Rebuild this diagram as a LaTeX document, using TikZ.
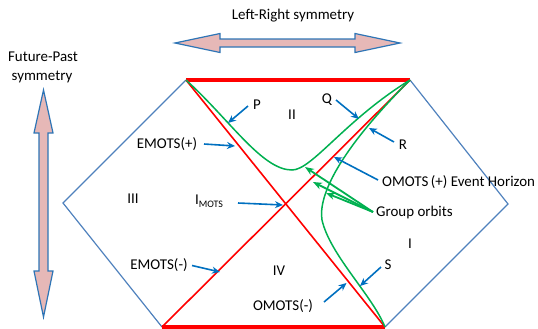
\documentclass[tikz,border=0pt]{standalone}
\usepackage{fontspec}
\setmainfont{Carlito}
\usetikzlibrary{arrows.meta}
\definecolor{hexblue}{RGB}{79,129,189}
\definecolor{arrblue}{RGB}{0,112,192}
\definecolor{pinkfill}{RGB}{230,184,183}
\definecolor{bigedge}{RGB}{46,117,182}
\definecolor{gorbit}{RGB}{0,176,80}
\begin{document}
\begin{tikzpicture}[x=1bp,y=-1bp,
  lbl/.style={inner sep=0pt,font=\fontsize{15}{18}\selectfont},
  hexedge/.style={draw=hexblue,line width=1.2bp},
  redline/.style={draw=red,line width=1.6bp},
  redthick/.style={draw=red,line width=4bp},
  orbit/.style={draw=gorbit,line width=1.5bp},
  ptr/.style={draw=arrblue,line width=1.6bp,-{Stealth[length=8bp,width=7bp]}},
  gptr/.style={draw=gorbit,line width=1.8bp,-{Stealth[length=9bp,width=7bp]}},
  bigarrow/.style={fill=pinkfill,draw=bigedge,line width=1.2bp,line join=miter}]
\useasboundingbox (0,0) rectangle (538,328);
% hexagon vertices
\coordinate (TL) at (186,80);
\coordinate (TR) at (410,80);
\coordinate (RV) at (508,204);
\coordinate (BR) at (385,327);
\coordinate (BL) at (162,327);
\coordinate (LV) at (63,203);
% blue edges
\draw[hexedge] (TL) -- (LV) -- (BL);
\draw[hexedge] (TR) -- (RV) -- (BR);
% red lines
\draw[redline] (TL) -- (BR);
\draw[redline] (TR) -- (BL);
\draw[redthick] (TL) -- (TR);
\draw[redthick] (BL) -- (BR);
% green orbits
\coordinate (g1m) at (292,170);
\coordinate (g2m) at (322,220);
\draw[orbit] (TL) .. controls (230,120) and (262,170) .. (g1m)
  .. controls (312,170) and (345,120) .. (TR);
\draw[orbit] (TR) .. controls (340,150) and (318,195) .. (g2m)
  .. controls (330,255) and (372,295) .. (BR);
% big symmetry arrows
\draw[bigarrow] (175,43) -- (220,33.5) -- (220,39) -- (355,39) -- (355,33.5)
  -- (400,43) -- (355,52.5) -- (355,47) -- (220,47) -- (220,52.5) -- cycle;
\draw[bigarrow] (43.5,90) -- (53,133) -- (48,133) -- (48,271) -- (53,271)
  -- (43.5,317) -- (34,271) -- (39,271) -- (39,133) -- (34,133) -- cycle;
% texts
\node[lbl] (lr) at (293,16) {Left-Right symmetry};
\node[lbl] (fp1) at (43,57) {Future-Past};
\node[lbl] (fp2) at (42,76.5) {symmetry};
\node[lbl] (P) at (257,105) {P};
\node[lbl] (II) at (292,115) {II};
\node[lbl] (Q) at (327,100) {Q};
\node[lbl] (R) at (403,145) {R};
\node[lbl] (emp) at (167,144) {EMOTS(+)};
\node[lbl] (III) at (133,199) {III};
\node[lbl] (imots) at (209,201) {I\raisebox{-2.5bp}{\fontsize{10}{12}\selectfont MOTS}};
\node[lbl,anchor=west] (omp) at (382,182) {OMOTS\,(+) Event Horizon};
\node[lbl,anchor=west] (go) at (376,213) {Group orbits};
\node[lbl] (I) at (410,244) {I};
\node[lbl] (IV) at (279,271) {IV};
\node[lbl] (emm) at (159,265.5) {EMOTS(-)};
\node[lbl] (S) at (388,265) {S};
\node[lbl] (omm) at (283,306) {OMOTS(-)};
% pointer coordinates
\coordinate (pS) at (248,106);   \coordinate (pT) at (228,123);
\coordinate (eS) at (204,144);   \coordinate (eT) at (235,146);
\coordinate (iS) at (238,203);   \coordinate (iT) at (283,205);
\coordinate (qS) at (336,100);   \coordinate (qT) at (359,119);
\coordinate (rS) at (394,142);   \coordinate (rT) at (369,128);
\coordinate (oS) at (378,180);   \coordinate (oT) at (334,157);
\coordinate (fS) at (192,265.5); \coordinate (fT) at (220,272);
\coordinate (sS) at (381,267);   \coordinate (sT) at (360,286);
\coordinate (mS) at (324,302);   \coordinate (mT) at (346.5,283);
\coordinate (gS) at (373,212);
\coordinate (gA) at (305,167);
\coordinate (gB) at (313,182);
\coordinate (gC) at (326,193);
\draw[ptr] (pS) -- (pT);
\draw[ptr] (eS) -- (eT);
\draw[ptr] (iS) -- (iT);
\draw[ptr] (qS) -- (qT);
\draw[ptr] (rS) -- (rT);
\draw[ptr] (oS) -- (oT);
\draw[ptr] (fS) -- (fT);
\draw[ptr] (sS) -- (sT);
\draw[ptr] (mS) -- (mT);
\draw[gptr] (gS) -- (gA);
\draw[gptr] (gS) -- (gB);
\draw[gptr] (gS) -- (gC);
\end{tikzpicture}
\end{document}
